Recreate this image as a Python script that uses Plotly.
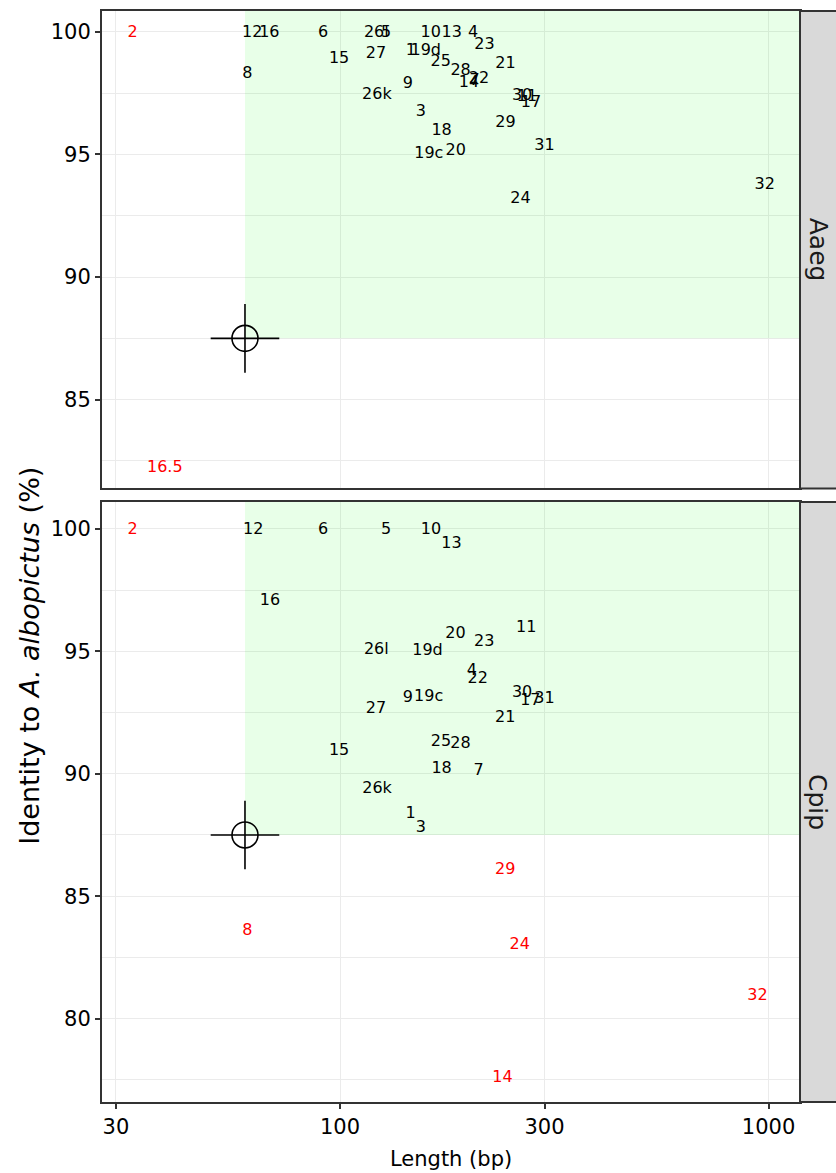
import plotly.graph_objects as go

# ---------------- data ----------------
aaeg_labels = ["2", "12", "16", "6", "26l", "5", "27", "15", "8", "26k", "10", "13", "4", "23",
               "1", "19d", "25", "21", "28", "14", "7", "22", "9", "30", "11", "17", "3", "29",
               "18", "19c", "20", "31", "24", "32", "16.5"]
aaeg_length = [32.8, 62.4, 68.4, 91.3, 121.5, 128, 121.3, 99.5, 60.8, 121.9, 162.8, 182.2, 204.4, 217.3,
               146.2, 158.5, 171.8, 243.3, 191.1, 200, 206, 211, 143.9, 266, 273, 279, 154.3, 243.3,
               172.6, 161.1, 186.2, 299.8, 263.6, 979, 39]
aaeg_identity = [99.95, 99.95, 99.95, 99.95, 99.95, 99.95, 99.1, 98.9, 98.3, 97.43, 99.95, 99.95, 99.97, 99.47,
                 99.23, 99.23, 98.78, 98.7, 98.41, 97.9, 98.0, 98.08, 97.88, 97.4, 97.35, 97.1, 96.74, 96.29,
                 95.96, 95.03, 95.15, 95.35, 93.19, 93.76, 82.2]
aaeg_flag = [True] + [False] * 33 + [True]

cpip_labels = ["2", "12", "6", "5", "10", "13", "16", "11", "20", "23", "26l", "19d", "4", "22",
               "30", "17", "31", "9", "19c", "27", "21", "15", "25", "28", "18", "7", "26k", "1",
               "3", "29", "8", "24", "32", "14"]
cpip_length = [32.8, 62.7, 91.3, 128, 163, 182, 68.6, 272, 186, 217, 121.5, 160, 203, 209.5,
               266, 278, 300, 143.9, 161, 121.3, 243, 99.5, 172, 191, 172.6, 210.5, 122, 146,
               154.3, 243, 60.8, 262.5, 942, 239.4]
cpip_identity = [99.95, 99.95, 99.95, 99.95, 99.95, 99.39, 97.06, 95.95, 95.71, 95.38, 95.05, 95.01, 94.19, 93.87,
                 93.29, 92.97, 93.05, 93.09, 93.13, 92.64, 92.27, 90.92, 91.29, 91.21, 90.18, 90.1, 89.37, 88.34,
                 87.77, 86.08, 83.56, 82.99, 80.9, 77.59]
cpip_flag = [True] + [False] * 28 + [True] * 5

threshold_length = 60
threshold_identity = 87.5

x_ticks = [30, 100, 300, 1000]
aaeg_y_ticks = [85, 90, 95, 100]
cpip_y_ticks = [80, 85, 90, 95, 100]
aaeg_y_minor = [82.5, 87.5, 92.5, 97.5]
cpip_y_minor = [77.5, 82.5, 87.5, 92.5, 97.5]
panels = ["Aaeg", "Cpip"]

# ---------------- layout constants ----------------
W, H = 836, 1173
ML, MR, MT, MB = 102, 36, 9, 71
X_RANGE = [1.4445, 3.0733]
Y1_RANGE = [81.38, 100.85]
Y2_RANGE = [76.59, 101.10]
Y1_DOM = [0.5624, 1.0]
Y2_DOM = [0.0, 0.5499]
FONT = "DejaVu Sans, Liberation Sans, Arial, sans-serif"
GRID = "#EBEBEB"
BORDER = "#333333"

fig = go.Figure()

def add_panel(xa, ya, labels, lengths, idents, flags, yr):
    # highlighted region (drawn over grid, semi-transparent like ggplot annotate)
    x_far = 10 ** (X_RANGE[1] + 0.5)
    y_far = yr[1] + 5
    fig.add_trace(go.Scatter(
        x=[threshold_length, x_far, x_far, threshold_length, threshold_length],
        y=[threshold_identity, threshold_identity, y_far, y_far, threshold_identity],
        mode="lines", fill="toself", fillcolor="rgba(0,255,0,0.09)",
        line=dict(width=0), hoverinfo="skip", showlegend=False, xaxis=xa, yaxis=ya))
    # crosshair at threshold
    fig.add_trace(go.Scatter(
        x=[threshold_length], y=[threshold_identity], mode="markers",
        marker=dict(symbol="circle-open", size=26, line=dict(width=1.6, color="black"), color="black"),
        showlegend=False, hoverinfo="skip", xaxis=xa, yaxis=ya))
    fig.add_trace(go.Scatter(
        x=[threshold_length], y=[threshold_identity], mode="markers",
        marker=dict(symbol="cross-thin-open", size=49, line=dict(width=1.6, color="black"), color="black"),
        showlegend=False, hoverinfo="skip", xaxis=xa, yaxis=ya))
    # labels
    fig.add_trace(go.Scatter(
        x=lengths, y=idents, mode="text", text=labels, textposition="middle center",
        textfont=dict(family=FONT, size=16, color=["#FF0000" if f else "#000000" for f in flags]),
        showlegend=False, hoverinfo="text", xaxis=xa, yaxis=ya, cliponaxis=False))

add_panel("x", "y", aaeg_labels, aaeg_length, aaeg_identity, aaeg_flag, Y1_RANGE)
add_panel("x2", "y2", cpip_labels, cpip_length, cpip_identity, cpip_flag, Y2_RANGE)

common_x = dict(type="log", range=X_RANGE, tickmode="array", tickvals=x_ticks,
                ticktext=[str(v) for v in x_ticks], showgrid=True, gridcolor=GRID, gridwidth=1.1,
                zeroline=False, showline=True, mirror=True, linecolor=BORDER, linewidth=2,
                tickfont=dict(family=FONT, size=21, color="black"))

def y_axis(rng, dom, anchor, ticks, minor):
    return dict(range=rng, domain=dom, anchor=anchor, tickmode="array", tickvals=ticks,
                ticktext=[str(v) for v in ticks], showgrid=True, gridcolor=GRID, gridwidth=1.1,
                zeroline=False, showline=True, mirror=True, linecolor=BORDER, linewidth=2,
                ticks="outside", ticklen=5, tickwidth=1.5, tickcolor=BORDER,
                tickfont=dict(family=FONT, size=21, color="black"),
                minor=dict(tickmode="array", tickvals=minor, showgrid=True, gridcolor=GRID,
                           gridwidth=0.9, ticks=""))

fig.update_layout(
    width=W, height=H,
    margin=dict(l=ML, r=MR, t=MT, b=MB, pad=0),
    paper_bgcolor="white", plot_bgcolor="white",
    showlegend=False,
    xaxis=dict(**common_x, domain=[0, 1], anchor="y", showticklabels=False, ticks=""),
    xaxis2=dict(**common_x, domain=[0, 1], anchor="y2", ticks="outside", ticklen=5,
                tickwidth=1.5, tickcolor=BORDER),
    yaxis=y_axis(Y1_RANGE, Y1_DOM, "x", aaeg_y_ticks, aaeg_y_minor),
    yaxis2=y_axis(Y2_RANGE, Y2_DOM, "x2", cpip_y_ticks, cpip_y_minor),
)

# facet strips on the right
plot_w = W - ML - MR
plot_h = H - MT - MB
strip_x1 = 1 + 38 / plot_w
shapes = []
annotations = []
for dom, name in zip([Y1_DOM, Y2_DOM], panels):
    shapes.append(dict(type="rect", xref="paper", yref="paper", x0=1, x1=strip_x1,
                       y0=dom[0], y1=dom[1], fillcolor="#D9D9D9",
                       line=dict(color=BORDER, width=2), layer="above"))
    annotations.append(dict(text=name, xref="paper", yref="paper", x=1, xshift=18,
                            y=(dom[0] + dom[1]) / 2, xanchor="center", yanchor="middle",
                            textangle=90, showarrow=False,
                            font=dict(family=FONT, size=25, color="#1A1A1A")))

ytitle_center_px = 655
annotations.append(dict(text="Identity to <i>A. albopictus</i> (%)", xref="paper", yref="paper",
                        x=0, xshift=-72, y=1 - (ytitle_center_px - MT) / plot_h,
                        xanchor="center", yanchor="middle",
                        textangle=-90, showarrow=False,
                        font=dict(family=FONT, size=27, color="black")))
annotations.append(dict(text="Length (bp)", xref="paper", yref="paper",
                        x=0.5, y=0, yshift=-57, xanchor="center", yanchor="middle",
                        showarrow=False, font=dict(family=FONT, size=21, color="black")))

fig.update_layout(shapes=shapes, annotations=annotations)

fig.write_html("out.html", config={"displayModeBar": False},
               post_script="document.body.style.margin='0';document.body.style.overflow='hidden';")
